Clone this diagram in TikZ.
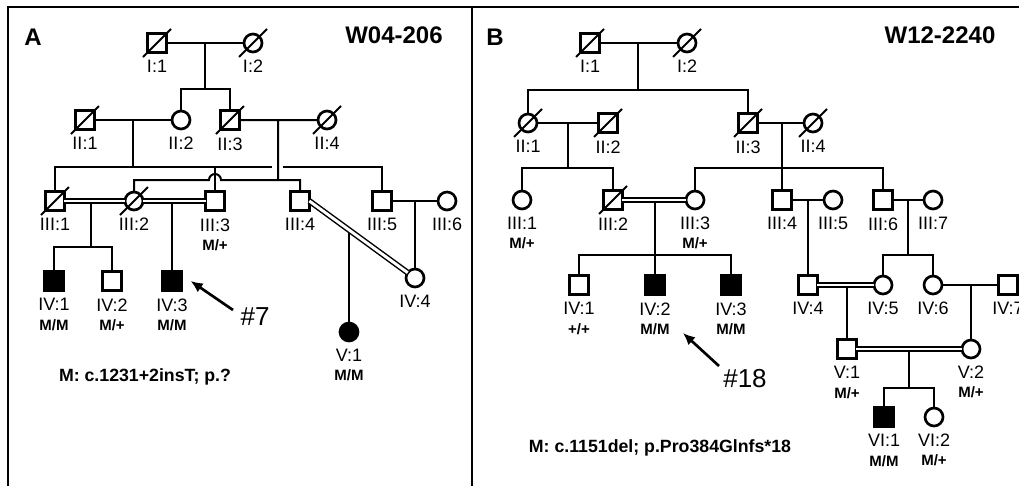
\documentclass[tikz,border=0pt]{standalone}
\usepackage{fontspec}
\setmainfont{Liberation Sans}
\usepackage{tikz}
\usetikzlibrary{arrows.meta}

\begin{document}
\begin{tikzpicture}[x=0.75pt,y=-0.75pt,>={Latex[length=9pt,width=8pt]},line width=1.5pt]
\tikzstyle{m}=[draw,rectangle,minimum size=14pt,inner sep=0pt,outer sep=0pt,line width=2pt]
\tikzstyle{f}=[draw,circle,minimum size=13.5pt,inner sep=0pt,outer sep=0pt,line width=2pt]
\tikzstyle{aff}=[fill=black]
\tikzstyle{slash}=[draw,line width=1.5pt]
\tikzstyle{dead}=[append after command={([shift={(-10.5pt,-10.5pt)}]\tikzlastnode.center) edge[slash] ([shift={(10.5pt,10.5pt)}]\tikzlastnode.center)}]
\tikzstyle{lab}=[font=\fontsize{13.5}{15}\selectfont,inner sep=0pt,label distance=5.4pt]
\tikzstyle{geno}=[font=\bfseries\fontsize{11.25}{13}\selectfont,inner sep=0pt,label distance=21pt]
\tikzstyle{cons}=[double,double distance=2.2pt,line width=1.1pt]
\tikzstyle{ttl}=[font=\bfseries\fontsize{18}{20}\selectfont,inner sep=0pt]
\tikzstyle{num}=[font=\fontsize{19.5}{22}\selectfont,inner sep=0pt]
\tikzstyle{mut}=[font=\bfseries\fontsize{13.3}{15}\selectfont,inner sep=0pt]
\tikzstyle{arr}=[->,line width=2pt]
\useasboundingbox (0,0) rectangle (1019,486);
\draw[line width=2pt] (8,486) |- (1019,7) (472,7) -- (472,486);
% family A
\node[ttl] (ta) at (33,37) {A};
\node[ttl] (tw1) at (394,35) {W04-206};
\node[m,dead,label={[lab]below:I:1}] (a11) at (157,43) {};
\node[f,dead,label={[lab]below:I:2}] (a12) at (253,43) {};
\node[m,dead,label={[lab]below:II:1}] (a21) at (85,120) {};
\node[f,label={[lab]below:II:2}] (a22) at (181,120) {};
\node[m,dead,label={[lab]below:II:3}] (a23) at (230,120) {};
\node[f,dead,label={[lab]below:II:4}] (a24) at (327,120) {};
\node[m,dead,label={[lab]below:III:1}] (a31) at (55,201) {};
\node[f,dead,label={[lab]below:III:2}] (a32) at (134,201) {};
\node[m,label={[lab]below:III:3},label={[geno]below:M/+}] (a33) at (215,201) {};
\node[m,label={[lab]below:III:4}] (a34) at (300,201) {};
\node[m,label={[lab]below:III:5}] (a35) at (382,201) {};
\node[f,label={[lab]below:III:6}] (a36) at (447,201) {};
\node[m,aff,label={[lab]below:IV:1},label={[geno]below:M/M}] (a41) at (54,281) {};
\node[m,label={[lab]below:IV:2},label={[geno]below:M/+}] (a42) at (112,281) {};
\node[m,aff,label={[lab]below:IV:3},label={[geno]below:M/M}] (a43) at (172,281) {};
\node[f,label={[lab]below:IV:4}] (a44) at (415,278) {};
\node[f,aff,label={[lab]below:V:1},label={[geno]below:M/M}] (a51) at (349,332) {};
\coordinate (am1) at (205,43); \coordinate (as1) at (205,89);
\draw (a11) -- (a12) (am1) -- (as1) (a22) |- (as1) -| (a23);
% sibship of II:1 x II:2, broken where II:3 x II:4 drops through
\coordinate (am2) at (133,120); \coordinate (as2) at (133,167);
\coordinate (ag1) at (272,167); \coordinate (ag2) at (283,167);
\draw (a21) -- (a22) (am2) -- (as2) (a31) |- (ag1) (ag2) -| (a35) (a33) -- (a33|-as2);
% sibship of II:3 x II:4 hops over III:3
\coordinate (am3) at (278,120); \coordinate (as3) at (278,180); \coordinate (ah) at (209,180);
\draw (a23) -- (a24) (am3) -- (as3) (a32) |- (ah) arc (180:360:6) -| (a34);
\draw[cons] (a31) -- (a32) (a32) -- (a33);
\coordinate (am4) at (91,204); \coordinate (as4) at (91,247);
\draw (am4) -- (as4) (a41) |- (as4) -| (a42);
\coordinate (am5) at (172,204); \draw (am5) -- (a43);
\coordinate (am6) at (415,201); \draw (a35) -- (a36) (am6) -- (a44);
\draw[cons] (a34.east) -- (a44);
\coordinate (am7) at (349,233); \draw (am7) -- (a51);
\node[num] (n7) at (255,317) {\#7};
\coordinate (t7) at (233,310);
\draw[arr] (t7) -- ([xshift=7pt]a43.east);
\node[mut,anchor=base] (mA) at (145,381) {M: c.1231+2insT; p.?};
% family B
\node[ttl] (tb) at (495,37) {B};
\node[ttl] (tw2) at (940,35) {W12-2240};
\node[m,dead,label={[lab]below:I:1}] (b11) at (590,43) {};
\node[f,dead,label={[lab]below:I:2}] (b12) at (687,43) {};
\node[f,dead,label={[lab]below:II:1}] (b21) at (528,123) {};
\node[m,dead,label={[lab]below:II:2}] (b22) at (608,123) {};
\node[m,dead,label={[lab]below:II:3}] (b23) at (748,123) {};
\node[f,dead,label={[lab]below:II:4}] (b24) at (813,123) {};
\node[f,label={[lab]below:III:1},label={[geno]below:M/+}] (b31) at (522,200) {};
\node[m,dead,label={[lab]below:III:2}] (b32) at (613,200) {};
\node[f,label={[lab]below:III:3},label={[geno]below:M/+}] (b33) at (695,200) {};
\node[m,label={[lab]below:III:4}] (b34) at (782,200) {};
\node[f,label={[lab]below:III:5}] (b35) at (833,200) {};
\node[m,label={[lab]below:III:6}] (b36) at (883,200) {};
\node[f,label={[lab]below:III:7}] (b37) at (933,200) {};
\node[m,label={[lab]below:IV:1},label={[geno]below:+/+}] (b41) at (579,285) {};
\node[m,aff,label={[lab]below:IV:2},label={[geno]below:M/M}] (b42) at (655,285) {};
\node[m,aff,label={[lab]below:IV:3},label={[geno]below:M/M}] (b43) at (731,285) {};
\node[m,label={[lab]below:IV:4}] (b44) at (808,285) {};
\node[f,label={[lab]below:IV:5}] (b45) at (883,285) {};
\node[f,label={[lab]below:IV:6}] (b46) at (933,285) {};
\node[m,label={[lab]below:IV:7}] (b47) at (1008,285) {};
\node[m,label={[lab]below:V:1},label={[geno]below:M/+}] (b51) at (847,349) {};
\node[f,label={[lab]below:V:2},label={[geno]below:M/+}] (b52) at (971,349) {};
\node[m,aff,label={[lab]below:VI:1},label={[geno]below:M/M}] (b61) at (884,417) {};
\node[f,label={[lab]below:VI:2},label={[geno]below:M/+}] (b62) at (934,417) {};
\coordinate (bm1) at (638,43); \coordinate (bs1) at (638,90);
\draw (b11) -- (b12) (bm1) -- (bs1) (b21) |- (bs1) -| (b23);
\coordinate (bm2) at (568,123); \coordinate (bs2) at (568,168);
\draw (b21) -- (b22) (bm2) -- (bs2) (b31) |- (bs2) -| (b32);
\coordinate (bm3) at (782,123); \coordinate (bs3) at (782,168);
\draw (b23) -- (b24) (bm3) -- (b34) (b33) |- (bs3) -| (b36);
\draw[cons] (b32) -- (b33);
\coordinate (bm4) at (655,203); \coordinate (bs4) at (655,255);
\draw (bm4) -- (b42) (b41) |- (bs4) -| (b43);
\coordinate (bm5) at (808,200); \draw (b34) -- (b35) (bm5) -- (b44);
\coordinate (bm6) at (908,200); \coordinate (bs6) at (908,255);
\draw (b36) -- (b37) (bm6) -- (bs6) (b45) |- (bs6) -| (b46);
\draw[cons] (b44) -- (b45);
\coordinate (bm7) at (847,288); \draw (bm7) -- (b51);
\coordinate (bm8) at (971,285); \draw (b46) -- (b47) (bm8) -- (b52);
\draw[cons] (b51) -- (b52);
\coordinate (bm9) at (909,352); \coordinate (bs9) at (909,388);
\draw (bm9) -- (bs9) (b61) |- (bs9) -| (b62);
\node[num] (n18) at (745,379) {\#18};
\coordinate (t18) at (719,366);
\draw[arr] (t18) -- ([shift={(21pt,-36pt)}]b42.center);
\node[mut,anchor=base] (mB) at (660,452) {M: c.1151del; p.Pro384Glnfs*18};
\end{tikzpicture}
\end{document}
